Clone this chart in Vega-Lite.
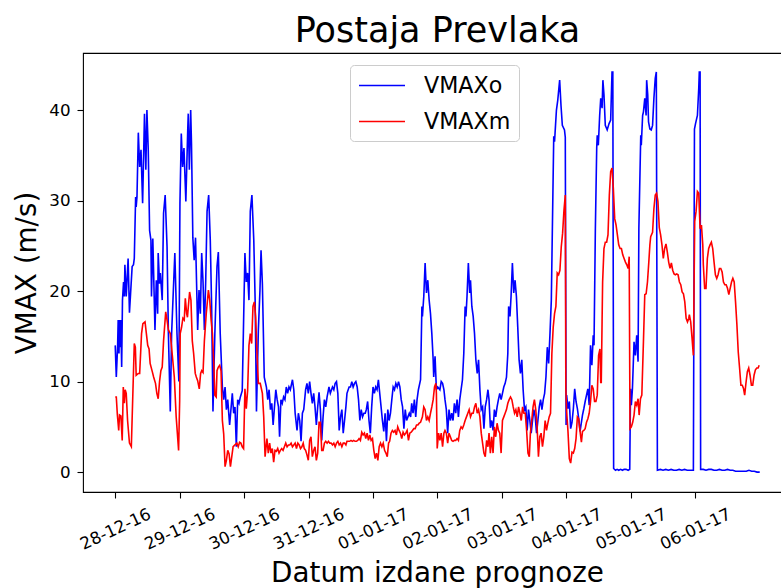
{
"$schema":"https://vega.github.io/schema/vega-lite/v6.json",
"width":699,"height":439,
"autosize":"none",
"padding":{"left":83,"top":53,"right":0,"bottom":96},
"background":"white",
"title":{"text":"Postaja Prevlaka","fontSize":35,"font":"DejaVu Sans","fontWeight":"normal","color":"black","baseline":"alphabetic","offset":-24,"dx":5,"anchor":"middle"},
"config":{"view":{"stroke":"black","strokeWidth":1.1},"font":"DejaVu Sans",
"axis":{"domain":false,"grid":false,"tickColor":"black","tickWidth":1.1,"tickSize":6,"labelColor":"black","labelFont":"DejaVu Sans","labelFontSize":16.7,"titleFont":"DejaVu Sans","titleFontWeight":"normal","titleColor":"black","titleFontSize":27.8,"labelOverlap":false,"labelFlush":false,"labelBound":false}},
"encoding":{
"x":{"field":"t","type":"quantitative","scale":{"domain":[-12,248.3],"nice":false,"zero":false},
"axis":{"values":[0,24,48,72,96,120,144,168,192,216],"labelExpr":"['28-12-16','29-12-16','30-12-16','31-12-16','01-01-17','02-01-17','03-01-17','04-01-17','05-01-17','06-01-17'][round(datum.value/24)]","labelAngle":-25,"labelAlign":"center","labelBaseline":"middle","labelPadding":31,"title":"Datum izdane prognoze","titleX":354,"titleY":89,"titleAlign":"center","titleBaseline":"alphabetic"}},
"y":{"field":"v","type":"quantitative","scale":{"domain":[-2.2,46.3],"nice":false,"zero":false},
"axis":{"values":[0,10,20,30,40],"labelPadding":7,"title":"VMAX (m/s)","titleX":-47.7,"titleY":219.5,"titleAlign":"center","titleBaseline":"alphabetic","titleAngle":-90}}
},
"layer":[
{"mark":{"type":"line","strokeWidth":1.6,"clip":true},
"encoding":{"color":{"datum":"VMAXo","type":"nominal","scale":{"domain":["VMAXo","VMAXm"],"range":["#0000ff","#ff0000"]},
"legend":{"title":null,"orient":"none","legendX":267,"legendY":12,"symbolType":"M-1,0H3","symbolSize":529,"symbolStrokeWidth":1.5,"symbolFillColor":"transparent","labelFontSize":22.2,"labelFont":"DejaVu Sans","labelColor":"black","labelOffset":41,"padding":8,"rowPadding":12,"strokeColor":"#cccccc","fillColor":"white","cornerRadius":4,"labelLimit":0}}},
"data":{"values":[
{"t":0,"v":14.0},{"t":0.4,"v":10.5},{"t":0.9,"v":14.0},{"t":1.1,"v":16.8},{"t":1.4,"v":13.1},{"t":1.6,"v":16.8},{"t":1.9,"v":13.8},{"t":2.1,"v":16.8},{"t":2.4,"v":11.6},{"t":2.7,"v":19.0},{"t":3.1,"v":21.0},{"t":3.4,"v":19.4},{"t":3.6,"v":22.9},{"t":4.1,"v":19.4},{"t":4.8,"v":23.6},{"t":5.3,"v":17.6},{"t":6.3,"v":22.7},{"t":6.8,"v":22.9},{"t":7.1,"v":23.6},{"t":7.6,"v":30.4},{"t":7.8,"v":29.3},{"t":8.1,"v":30.4},{"t":8.6,"v":37.5},{"t":9.1,"v":33.7},{"t":9.6,"v":35.6},{"t":10.2,"v":29.7},{"t":10.9,"v":39.6},{"t":11.4,"v":33.4},{"t":11.8,"v":40.0},{"t":12.3,"v":35.6},{"t":12.8,"v":26.7},{"t":13.3,"v":25.6},{"t":13.5,"v":19.4},{"t":14.0,"v":25.8},{"t":14.8,"v":15.7},{"t":15.3,"v":21.2},{"t":15.8,"v":17.5},{"t":16.0,"v":24.2},{"t":16.5,"v":20.8},{"t":16.8,"v":22.0},{"t":17.5,"v":19.0},{"t":18.0,"v":28.6},{"t":18.6,"v":30.6},{"t":19.3,"v":24.9},{"t":19.8,"v":15.3},{"t":20.5,"v":6.7},{"t":21.0,"v":15.3},{"t":22.2,"v":24.2},{"t":23.0,"v":15.3},{"t":23.7,"v":10.0},{"t":24.1,"v":29.7},{"t":24.6,"v":37.4},{"t":25.1,"v":33.7},{"t":25.6,"v":35.8},{"t":26.3,"v":29.9},{"t":27.0,"v":37.8},{"t":27.2,"v":39.6},{"t":27.6,"v":33.4},{"t":28.1,"v":40.0},{"t":28.4,"v":36.3},{"t":28.9,"v":25.9},{"t":29.4,"v":23.4},{"t":29.9,"v":25.9},{"t":30.7,"v":15.7},{"t":31.2,"v":20.1},{"t":31.7,"v":17.5},{"t":32.2,"v":24.2},{"t":32.7,"v":21.0},{"t":33.2,"v":15.7},{"t":33.7,"v":21.2},{"t":34.2,"v":28.8},{"t":34.8,"v":30.6},{"t":35.4,"v":25.6},{"t":35.9,"v":18.3},{"t":36.4,"v":6.7},{"t":37.1,"v":15.3},{"t":37.9,"v":22.7},{"t":38.4,"v":24.3},{"t":39.1,"v":15.3},{"t":39.9,"v":9.4},{"t":40.4,"v":8.0},{"t":40.9,"v":9.4},{"t":41.4,"v":6.9},{"t":41.9,"v":8.0},{"t":42.6,"v":5.2},{"t":43.6,"v":8.7},{"t":44.1,"v":6.5},{"t":44.6,"v":7.2},{"t":45.1,"v":2.8},{"t":45.6,"v":8.0},{"t":46.1,"v":7.6},{"t":46.6,"v":8.3},{"t":47.3,"v":9.0},{"t":48.3,"v":24.2},{"t":48.8,"v":21.0},{"t":49.3,"v":22.0},{"t":49.8,"v":19.0},{"t":50.3,"v":28.8},{"t":50.9,"v":30.6},{"t":51.6,"v":25.6},{"t":52.1,"v":19.0},{"t":52.6,"v":6.7},{"t":53.3,"v":15.7},{"t":53.9,"v":20.1},{"t":54.3,"v":24.5},{"t":54.8,"v":20.8},{"t":55.5,"v":10.5},
{"t":56.3,"v":9.4},{"t":56.8,"v":8.0},{"t":57.3,"v":9.1},{"t":57.8,"v":6.9},{"t":58.3,"v":7.6},{"t":58.8,"v":5.2},{"t":59.3,"v":7.2},{"t":59.8,"v":9.1},{"t":60.3,"v":8.0},{"t":60.8,"v":7.2},{"t":61.2,"v":3.9},{"t":61.7,"v":8.0},{"t":62.2,"v":7.6},{"t":62.7,"v":8.3},{"t":63.2,"v":8.0},{"t":63.7,"v":9.4},{"t":64.2,"v":8.7},{"t":64.7,"v":9.4},{"t":65.2,"v":9.1},{"t":66.0,"v":10.2},{"t":66.5,"v":9.1},{"t":67.0,"v":6.5},{"t":67.7,"v":4.6},{"t":68.2,"v":6.5},{"t":68.7,"v":5.7},{"t":69.2,"v":3.4},{"t":69.7,"v":6.5},{"t":70.2,"v":6.9},{"t":70.9,"v":9.1},{"t":71.4,"v":9.8},{"t":71.9,"v":8.7},{"t":72.4,"v":10.0},{"t":72.9,"v":8.7},{"t":73.4,"v":7.6},{"t":73.9,"v":8.7},{"t":74.4,"v":7.2},{"t":74.9,"v":5.2},{"t":75.4,"v":7.2},{"t":75.9,"v":8.8},{"t":76.4,"v":6.9},{"t":76.9,"v":3.5},{"t":77.4,"v":6.1},{"t":77.9,"v":8.0},{"t":78.4,"v":7.2},{"t":78.9,"v":8.3},{"t":79.6,"v":9.4},{"t":80.1,"v":8.7},{"t":80.9,"v":9.4},{"t":81.4,"v":9.1},{"t":81.9,"v":9.8},{"t":82.4,"v":10.0},{"t":82.9,"v":8.7},{"t":83.4,"v":4.6},{"t":83.9,"v":6.1},{"t":84.4,"v":6.9},{"t":84.9,"v":4.3},{"t":85.4,"v":5.7},{"t":85.9,"v":7.2},{"t":86.3,"v":8.7},{"t":87.1,"v":9.4},{"t":87.6,"v":9.4},{"t":88.1,"v":10.0},{"t":88.6,"v":9.4},{"t":89.1,"v":9.8},{"t":89.6,"v":10.0},{"t":90.1,"v":9.4},{"t":90.6,"v":8.0},{"t":91.1,"v":5.7},{"t":91.6,"v":6.9},{"t":92.1,"v":6.1},{"t":92.6,"v":6.5},{"t":93.1,"v":6.5},{"t":93.5,"v":6.9},{"t":94.0,"v":7.8},{"t":94.5,"v":5.7},{"t":95.0,"v":4.3},{"t":95.5,"v":7.2},{"t":96.0,"v":9.4},{"t":96.5,"v":8.7},{"t":97.0,"v":9.4},{"t":97.5,"v":9.1},{"t":98.0,"v":10.2},{"t":98.5,"v":8.7},{"t":99.0,"v":7.2},{"t":99.5,"v":5.7},{"t":100.0,"v":4.5},{"t":100.5,"v":6.5},{"t":101.0,"v":3.4},{"t":101.5,"v":6.9},{"t":102.0,"v":5.7},{"t":102.5,"v":6.5},{"t":103.0,"v":8.0},{"t":103.5,"v":9.4},{"t":104.0,"v":9.1},{"t":104.5,"v":9.8},{"t":105.0,"v":9.4},{"t":105.5,"v":10.0},{"t":106.0,"v":9.4},{"t":106.5,"v":8.0},{"t":107.0,"v":7.2},{"t":107.5,"v":4.8},{"t":108.0,"v":6.9},{"t":108.5,"v":5.7},{"t":109.0,"v":6.1},{"t":109.5,"v":6.5},{"t":110.0,"v":6.1},{"t":110.4,"v":7.6},{"t":110.9,"v":6.5},{"t":111.4,"v":8.0},{"t":111.9,"v":6.1},{"t":112.4,"v":8.0},{"t":112.9,"v":9.1},{"t":113.7,"v":10.2},
{"t":114.2,"v":18.3},{"t":114.4,"v":17.2},{"t":114.9,"v":19.4},{"t":115.4,"v":23.1},{"t":115.9,"v":19.8},{"t":116.4,"v":21.2},{"t":116.9,"v":19.0},{"t":117.4,"v":17.5},{"t":117.9,"v":15.3},{"t":118.4,"v":12.4},{"t":118.6,"v":10.5},{"t":119.1,"v":12.8},{"t":119.6,"v":9.1},{"t":120.1,"v":9.4},{"t":120.9,"v":9.1},{"t":121.4,"v":10.0},{"t":121.9,"v":9.8},{"t":122.4,"v":9.1},{"t":122.8,"v":8.0},{"t":123.3,"v":6.9},{"t":123.8,"v":4.3},{"t":124.3,"v":6.9},{"t":124.8,"v":5.7},{"t":125.3,"v":6.5},{"t":125.8,"v":5.7},{"t":126.3,"v":7.6},{"t":126.8,"v":6.5},{"t":127.3,"v":8.0},{"t":127.8,"v":6.1},{"t":128.3,"v":8.0},{"t":128.8,"v":9.1},{"t":129.3,"v":10.2},{"t":129.8,"v":13.1},{"t":130.3,"v":18.3},{"t":130.6,"v":17.2},{"t":131.0,"v":19.4},{"t":131.5,"v":23.1},{"t":132.0,"v":19.8},{"t":132.3,"v":21.2},{"t":132.8,"v":18.3},{"t":133.3,"v":17.2},{"t":133.8,"v":15.3},{"t":134.3,"v":12.4},{"t":134.8,"v":10.9},{"t":135.3,"v":12.4},{"t":135.8,"v":9.1},{"t":136.3,"v":6.9},{"t":136.8,"v":7.2},{"t":137.3,"v":4.8},{"t":137.8,"v":7.2},{"t":138.3,"v":8.0},{"t":138.8,"v":9.1},{"t":139.2,"v":8.0},{"t":139.7,"v":4.9},{"t":140.2,"v":5.7},{"t":140.7,"v":4.6},{"t":141.2,"v":6.9},{"t":141.7,"v":6.1},{"t":142.2,"v":7.2},{"t":142.7,"v":8.0},{"t":143.2,"v":8.7},{"t":143.7,"v":8.0},{"t":144.2,"v":8.7},{"t":144.7,"v":9.4},{"t":145.2,"v":9.8},{"t":145.7,"v":10.5},{"t":146.2,"v":13.1},{"t":146.5,"v":18.3},{"t":147.0,"v":17.2},{"t":147.4,"v":19.4},{"t":147.9,"v":23.1},{"t":148.4,"v":19.8},{"t":148.9,"v":21.2},{"t":149.4,"v":19.4},{"t":149.9,"v":16.0},{"t":150.4,"v":12.4},{"t":150.9,"v":10.9},{"t":151.4,"v":12.4},{"t":151.9,"v":9.1},{"t":152.4,"v":6.9},{"t":152.9,"v":7.2},{"t":153.4,"v":4.6},{"t":153.9,"v":6.9},{"t":154.4,"v":5.7},{"t":154.9,"v":4.3},{"t":155.4,"v":5.7},{"t":155.9,"v":6.9},{"t":156.4,"v":6.1},{"t":156.9,"v":4.3},{"t":157.4,"v":5.7},{"t":157.9,"v":7.2},{"t":158.4,"v":8.0},{"t":158.9,"v":6.9},{"t":159.4,"v":8.0},{"t":159.9,"v":8.7},{"t":160.4,"v":10.5},{"t":160.9,"v":13.8},{"t":161.4,"v":12.0},{"t":161.9,"v":15.3},{"t":162.4,"v":19.0},{"t":162.8,"v":27.1},{"t":163.3,"v":37.1},{"t":163.6,"v":36.5},{"t":163.8,"v":37.5},{"t":164.3,"v":40.0},{"t":164.8,"v":41.1},{"t":165.5,"v":43.3},{"t":166.0,"v":40.5},{"t":166.5,"v":38.3},{"t":167.3,"v":37.8},{"t":167.6,"v":37.0},{"t":167.9,"v":5.2},
{"t":168.1,"v":8.5},{"t":168.6,"v":7.0},{"t":169.1,"v":7.8},{"t":169.6,"v":4.8},{"t":170.1,"v":5.5},{"t":170.6,"v":7.0},{"t":171.1,"v":9.2},{"t":171.6,"v":7.8},{"t":172.1,"v":7.0},{"t":172.6,"v":5.9},{"t":173.1,"v":4.5},{"t":173.6,"v":5.5},{"t":174.0,"v":6.3},{"t":174.5,"v":7.0},{"t":175.0,"v":7.8},{"t":175.5,"v":8.5},{"t":176.0,"v":9.2},{"t":176.5,"v":7.4},{"t":177.0,"v":14.0},{"t":177.5,"v":11.8},{"t":178.0,"v":15.1},{"t":178.3,"v":14.0},{"t":178.8,"v":26.9},{"t":179.3,"v":35.8},{"t":179.5,"v":37.2},{"t":179.9,"v":36.1},{"t":180.4,"v":39.4},{"t":180.8,"v":41.3},{"t":181.3,"v":40.2},{"t":181.6,"v":43.3},{"t":182.0,"v":41.7},{"t":182.5,"v":38.3},{"t":183.2,"v":37.8},{"t":183.9,"v":38.5},{"t":184.5,"v":38.9},{"t":185.0,"v":44.2},{"t":185.3,"v":44.2},{"t":185.6,"v":0.4},{"t":186.3,"v":0.2},{"t":186.9,"v":0.3},{"t":187.5,"v":0.2},{"t":188.2,"v":0.3},{"t":188.9,"v":0.2},{"t":189.5,"v":0.3},{"t":190.2,"v":0.3},{"t":191.0,"v":0.2},{"t":191.6,"v":0.3},{"t":191.9,"v":9.2},{"t":192.2,"v":7.4},{"t":192.6,"v":9.2},{"t":193.2,"v":14.4},{"t":193.7,"v":12.9},{"t":194.2,"v":15.1},{"t":194.7,"v":12.2},{"t":195.0,"v":26.9},{"t":195.7,"v":37.2},{"t":195.9,"v":36.1},{"t":196.4,"v":39.4},{"t":196.7,"v":39.8},{"t":197.2,"v":41.3},{"t":197.7,"v":39.4},{"t":197.9,"v":43.3},{"t":198.3,"v":41.7},{"t":198.6,"v":38.7},{"t":199.1,"v":37.9},{"t":199.6,"v":37.8},{"t":200.1,"v":38.3},{"t":200.6,"v":41.3},{"t":201.1,"v":43.5},{"t":201.5,"v":44.2},{"t":201.9,"v":0.2},{"t":203,"v":0.3},{"t":204,"v":0.2},{"t":205,"v":0.3},{"t":206,"v":0.2},{"t":207,"v":0.3},{"t":208,"v":0.2},{"t":209,"v":0.2},{"t":210,"v":0.3},{"t":211,"v":0.2},{"t":212,"v":0.3},{"t":213,"v":0.2},{"t":214,"v":0.2},{"t":215.3,"v":0.2},{"t":215.7,"v":37.9},{"t":216.1,"v":38.5},{"t":216.8,"v":39.4},{"t":217.3,"v":42.4},{"t":217.5,"v":44.2},{"t":217.8,"v":44.2},{"t":218.0,"v":0.3},{"t":219,"v":0.3},{"t":220,"v":0.2},{"t":221,"v":0.3},{"t":222,"v":0.3},{"t":223,"v":0.2},{"t":224,"v":0.2},{"t":225,"v":0.3},{"t":226,"v":0.2},{"t":227,"v":0.2},{"t":228,"v":0.3},{"t":229,"v":0.2},{"t":230,"v":0.2},{"t":231,"v":0.1},{"t":232,"v":0.1},{"t":233,"v":0.1},{"t":234,"v":0.1},{"t":235,"v":0.1},{"t":236,"v":0.2},{"t":237,"v":0.1},{"t":238,"v":0.1},{"t":239,"v":0.0},{"t":240,"v":0.0}
]}},
{"mark":{"type":"line","strokeWidth":1.6,"clip":true},
"encoding":{"color":{"datum":"VMAXm","type":"nominal"}},
"data":{"values":[
{"t":0,"v":8.3},{"t":0.4,"v":8.3},{"t":0.8,"v":6.3},{"t":1.3,"v":4.6},{"t":1.6,"v":6.3},{"t":2.1,"v":6.2},{"t":2.6,"v":3.5},{"t":3.0,"v":9.4},{"t":3.4,"v":7.6},{"t":3.7,"v":9.1},{"t":4.1,"v":8.7},{"t":4.6,"v":5.7},{"t":5.3,"v":3.2},{"t":6.0,"v":2.8},{"t":7.1,"v":14.2},{"t":7.5,"v":13.8},{"t":7.8,"v":10.7},{"t":8.6,"v":10.9},{"t":9.1,"v":10.9},{"t":9.8,"v":15.3},{"t":10.3,"v":16.4},{"t":11.1,"v":16.6},{"t":11.6,"v":15.3},{"t":12.1,"v":14.0},{"t":12.6,"v":13.6},{"t":13.0,"v":12.0},{"t":13.8,"v":11.1},{"t":14.3,"v":10.5},{"t":15.0,"v":9.8},{"t":15.5,"v":8.7},{"t":16.0,"v":8.1},{"t":16.5,"v":10.0},{"t":17.0,"v":11.2},{"t":17.5,"v":11.6},{"t":18.0,"v":14.5},{"t":18.8,"v":17.7},{"t":19.3,"v":16.8},{"t":19.8,"v":15.7},{"t":20.5,"v":15.3},{"t":21.2,"v":13.1},{"t":22.0,"v":10.5},{"t":22.7,"v":6.1},{"t":23.6,"v":2.4},{"t":24.0,"v":7.9},{"t":24.2,"v":15.3},{"t":24.7,"v":16.0},{"t":25.2,"v":17.0},{"t":25.7,"v":16.8},{"t":26.1,"v":19.2},{"t":26.6,"v":17.5},{"t":26.9,"v":17.1},{"t":27.2,"v":18.2},{"t":27.7,"v":19.9},{"t":28.2,"v":19.0},{"t":28.7,"v":14.5},{"t":29.2,"v":13.1},{"t":29.8,"v":10.9},{"t":30.2,"v":10.5},{"t":30.7,"v":10.1},{"t":31.3,"v":9.2},{"t":31.8,"v":10.9},{"t":32.2,"v":11.2},{"t":32.7,"v":11.0},{"t":33.2,"v":14.5},{"t":33.9,"v":17.5},{"t":34.7,"v":20.1},{"t":35.2,"v":19.0},{"t":35.7,"v":16.8},{"t":36.2,"v":15.3},{"t":36.7,"v":12.0},{"t":37.1,"v":8.5},{"t":37.6,"v":8.3},{"t":37.9,"v":11.2},{"t":38.4,"v":11.6},{"t":38.9,"v":11.8},{"t":39.4,"v":11.2},{"t":39.9,"v":5.7},{"t":40.4,"v":4.2},{"t":40.9,"v":0.6},{"t":41.4,"v":1.3},{"t":41.9,"v":2.4},{"t":42.4,"v":2.0},{"t":42.9,"v":0.6},{"t":43.4,"v":1.7},{"t":43.9,"v":2.8},{"t":44.6,"v":3.0},{"t":45.3,"v":3.2},{"t":45.8,"v":2.8},{"t":46.3,"v":3.3},{"t":46.8,"v":3.2},{"t":47.3,"v":2.8},{"t":47.8,"v":2.6},{"t":48.3,"v":9.2},{"t":48.8,"v":7.0},{"t":49.3,"v":9.0},{"t":49.8,"v":14.0},{"t":50.3,"v":15.3},{"t":50.8,"v":14.2},{"t":51.3,"v":18.3},{"t":51.8,"v":18.8},{"t":52.3,"v":17.1},{"t":52.8,"v":13.1},{"t":53.3,"v":9.8},{"t":54.0,"v":9.8},{"t":54.8,"v":8.7},{"t":55.3,"v":6.1},{"t":55.8,"v":1.7},
{"t":56.5,"v":3.7},{"t":57.0,"v":2.1},{"t":57.5,"v":3.2},{"t":58.0,"v":2.1},{"t":58.5,"v":2.6},{"t":59.0,"v":1.1},{"t":59.5,"v":2.4},{"t":60.0,"v":2.3},{"t":60.5,"v":2.6},{"t":61.0,"v":2.1},{"t":61.5,"v":2.4},{"t":62.0,"v":2.6},{"t":62.5,"v":2.4},{"t":63.0,"v":2.8},{"t":63.5,"v":3.2},{"t":64.0,"v":2.8},{"t":64.5,"v":3.0},{"t":65.0,"v":3.0},{"t":65.5,"v":3.2},{"t":66.0,"v":2.8},{"t":66.5,"v":3.0},{"t":67.0,"v":3.2},{"t":67.5,"v":2.6},{"t":68.0,"v":3.2},{"t":68.5,"v":3.0},{"t":69.0,"v":2.6},{"t":69.5,"v":2.8},{"t":70.0,"v":3.2},{"t":70.4,"v":2.6},{"t":70.9,"v":2.4},{"t":71.4,"v":1.9},{"t":71.9,"v":1.3},{"t":72.4,"v":3.5},{"t":72.9,"v":3.9},{"t":73.4,"v":1.7},{"t":73.9,"v":2.4},{"t":74.4,"v":2.8},{"t":74.9,"v":1.3},{"t":75.4,"v":2.1},{"t":75.9,"v":5.5},{"t":76.4,"v":5.5},{"t":76.9,"v":2.4},{"t":77.4,"v":2.4},{"t":77.9,"v":3.2},{"t":78.4,"v":3.4},{"t":78.9,"v":3.2},{"t":79.4,"v":3.4},{"t":79.9,"v":3.2},{"t":80.4,"v":3.2},{"t":80.9,"v":3.0},{"t":81.4,"v":3.2},{"t":81.9,"v":2.8},{"t":82.4,"v":3.2},{"t":82.9,"v":3.4},{"t":83.4,"v":3.0},{"t":83.9,"v":3.2},{"t":84.4,"v":2.8},{"t":84.9,"v":3.2},{"t":85.4,"v":3.2},{"t":85.9,"v":3.0},{"t":86.3,"v":3.4},{"t":86.8,"v":3.4},{"t":87.3,"v":3.4},{"t":87.8,"v":3.5},{"t":88.3,"v":3.4},{"t":88.8,"v":3.5},{"t":89.3,"v":3.4},{"t":89.8,"v":3.4},{"t":90.3,"v":3.5},{"t":90.8,"v":3.7},{"t":91.3,"v":3.5},{"t":91.8,"v":4.4},{"t":92.3,"v":4.1},{"t":92.8,"v":4.3},{"t":93.3,"v":3.7},{"t":93.8,"v":4.3},{"t":94.3,"v":3.5},{"t":94.8,"v":4.1},{"t":95.3,"v":3.5},{"t":95.8,"v":3.7},{"t":96.3,"v":2.4},{"t":96.8,"v":1.5},{"t":97.3,"v":2.1},{"t":97.8,"v":1.3},{"t":98.3,"v":2.8},{"t":98.8,"v":3.2},{"t":99.3,"v":2.8},{"t":99.8,"v":3.2},{"t":100.3,"v":2.4},{"t":100.8,"v":2.1},{"t":101.3,"v":1.7},{"t":101.8,"v":3.2},{"t":102.2,"v":3.4},{"t":102.7,"v":4.3},{"t":103.2,"v":4.6},{"t":103.7,"v":4.4},{"t":104.2,"v":4.6},{"t":104.7,"v":4.1},{"t":105.2,"v":5.0},{"t":105.7,"v":4.6},{"t":106.2,"v":4.3},{"t":106.7,"v":3.7},{"t":107.2,"v":4.4},{"t":107.7,"v":4.1},{"t":108.2,"v":4.3},{"t":108.7,"v":4.6},{"t":109.2,"v":3.5},{"t":109.7,"v":4.3},{"t":110.2,"v":4.4},{"t":110.7,"v":4.6},{"t":111.2,"v":4.8},{"t":111.7,"v":4.8},{"t":112.2,"v":5.2},{"t":112.7,"v":5.2},{"t":113.2,"v":5.4},{"t":113.7,"v":5.5},
{"t":114.4,"v":6.1},{"t":114.9,"v":7.2},{"t":115.4,"v":6.9},{"t":115.9,"v":5.7},{"t":116.4,"v":6.1},{"t":116.9,"v":5.7},{"t":117.4,"v":6.5},{"t":117.9,"v":7.2},{"t":118.4,"v":8.0},{"t":118.9,"v":9.4},{"t":119.4,"v":9.8},{"t":119.6,"v":8.7},{"t":119.9,"v":2.6},{"t":120.4,"v":4.3},{"t":120.9,"v":3.5},{"t":121.4,"v":4.3},{"t":121.9,"v":2.8},{"t":122.4,"v":4.3},{"t":122.8,"v":4.6},{"t":123.3,"v":4.3},{"t":123.8,"v":3.2},{"t":124.3,"v":4.3},{"t":124.8,"v":3.9},{"t":125.3,"v":3.5},{"t":125.8,"v":3.4},{"t":126.3,"v":3.5},{"t":126.8,"v":3.5},{"t":127.3,"v":3.7},{"t":127.8,"v":3.5},{"t":128.3,"v":4.6},{"t":128.8,"v":5.0},{"t":129.3,"v":4.8},{"t":129.8,"v":5.2},{"t":130.3,"v":5.7},{"t":130.8,"v":6.1},{"t":131.3,"v":6.5},{"t":131.8,"v":6.9},{"t":132.3,"v":6.1},{"t":132.8,"v":6.5},{"t":133.3,"v":6.5},{"t":133.8,"v":7.2},{"t":134.3,"v":7.6},{"t":134.8,"v":6.5},{"t":135.3,"v":6.9},{"t":135.8,"v":6.1},{"t":136.3,"v":4.3},{"t":136.8,"v":3.2},{"t":137.3,"v":2.1},{"t":137.8,"v":1.7},{"t":138.3,"v":3.5},{"t":138.8,"v":2.8},{"t":139.2,"v":4.3},{"t":139.7,"v":2.1},{"t":140.2,"v":3.9},{"t":140.7,"v":2.1},{"t":141.2,"v":5.0},{"t":141.7,"v":3.9},{"t":142.2,"v":5.4},{"t":142.7,"v":4.6},{"t":143.2,"v":4.3},{"t":143.7,"v":2.1},{"t":144.2,"v":5.7},{"t":144.7,"v":6.1},{"t":145.2,"v":6.5},{"t":145.7,"v":6.9},{"t":146.2,"v":7.6},{"t":146.7,"v":8.0},{"t":147.2,"v":8.3},{"t":147.7,"v":8.0},{"t":148.2,"v":7.2},{"t":148.7,"v":6.5},{"t":149.2,"v":6.9},{"t":149.7,"v":6.1},{"t":150.2,"v":7.2},{"t":150.7,"v":6.5},{"t":151.2,"v":5.7},{"t":151.7,"v":7.2},{"t":152.2,"v":6.5},{"t":152.7,"v":6.5},{"t":153.2,"v":4.6},{"t":153.7,"v":2.1},{"t":154.2,"v":1.7},{"t":154.6,"v":4.3},{"t":155.1,"v":5.7},{"t":155.6,"v":7.2},{"t":156.1,"v":8.0},{"t":156.6,"v":6.9},{"t":157.1,"v":5.0},{"t":157.6,"v":1.7},{"t":158.1,"v":3.9},{"t":158.6,"v":4.3},{"t":159.1,"v":2.8},{"t":159.6,"v":3.9},{"t":160.1,"v":5.7},{"t":160.6,"v":4.6},{"t":161.1,"v":5.4},{"t":161.6,"v":6.1},{"t":162.1,"v":6.5},{"t":162.6,"v":13.1},{"t":163.1,"v":16.0},{"t":163.6,"v":17.5},{"t":164.1,"v":18.3},{"t":164.6,"v":22.0},{"t":165.1,"v":21.8},{"t":165.6,"v":22.3},{"t":166.1,"v":24.9},{"t":166.6,"v":26.4},{"t":167.1,"v":28.9},{"t":167.6,"v":30.6},
{"t":167.8,"v":9.2},{"t":168.1,"v":6.7},{"t":168.6,"v":4.5},{"t":169.1,"v":1.5},{"t":169.6,"v":1.0},{"t":170.1,"v":2.2},{"t":170.6,"v":2.1},{"t":171.1,"v":2.6},{"t":171.6,"v":3.7},{"t":172.1,"v":6.1},{"t":172.6,"v":5.9},{"t":173.1,"v":4.5},{"t":173.6,"v":3.3},{"t":174.0,"v":4.5},{"t":174.5,"v":4.6},{"t":175.0,"v":4.8},{"t":175.5,"v":5.5},{"t":176.0,"v":5.9},{"t":176.5,"v":6.5},{"t":177.0,"v":7.8},{"t":177.5,"v":9.6},{"t":178.0,"v":9.2},{"t":178.5,"v":7.8},{"t":179.0,"v":7.8},{"t":179.5,"v":8.5},{"t":180.0,"v":12.9},{"t":180.5,"v":13.6},{"t":180.8,"v":9.9},{"t":181.0,"v":9.9},{"t":181.3,"v":16.6},{"t":181.5,"v":21.0},{"t":182.0,"v":24.7},{"t":182.5,"v":25.4},{"t":183.0,"v":25.4},{"t":183.5,"v":26.2},{"t":184.0,"v":30.6},{"t":184.5,"v":33.2},{"t":185.0,"v":33.6},{"t":185.5,"v":31.3},{"t":186.0,"v":28.0},{"t":186.5,"v":27.3},{"t":187.0,"v":26.2},{"t":187.5,"v":25.1},{"t":188.0,"v":24.7},{"t":188.5,"v":24.7},{"t":189.0,"v":24.0},{"t":189.5,"v":23.6},{"t":190.0,"v":23.2},{"t":190.5,"v":22.9},{"t":191.0,"v":22.5},{"t":191.4,"v":23.8},{"t":191.7,"v":4.8},{"t":192.2,"v":5.0},{"t":192.7,"v":5.5},{"t":193.2,"v":6.3},{"t":193.7,"v":7.8},{"t":194.2,"v":7.4},{"t":194.7,"v":8.1},{"t":195.1,"v":6.3},{"t":195.6,"v":8.1},{"t":196.1,"v":8.5},{"t":196.7,"v":14.4},{"t":197.2,"v":19.6},{"t":197.7,"v":19.7},{"t":198.2,"v":21.0},{"t":198.7,"v":23.2},{"t":199.1,"v":25.1},{"t":199.4,"v":26.0},{"t":200.1,"v":26.5},{"t":200.6,"v":29.1},{"t":201.1,"v":30.6},{"t":201.6,"v":30.8},{"t":202.1,"v":29.9},{"t":202.6,"v":27.0},{"t":203.1,"v":26.2},{"t":203.6,"v":25.1},{"t":204.1,"v":23.6},{"t":204.6,"v":24.7},{"t":205.1,"v":25.2},{"t":205.6,"v":24.3},{"t":206.1,"v":23.2},{"t":206.6,"v":22.5},{"t":207.1,"v":23.1},{"t":207.6,"v":22.3},{"t":208.1,"v":21.9},{"t":208.6,"v":21.8},{"t":209.1,"v":21.9},{"t":209.6,"v":21.8},{"t":210.1,"v":21.0},{"t":210.6,"v":20.7},{"t":211.1,"v":19.9},{"t":211.6,"v":19.7},{"t":212.1,"v":18.8},{"t":212.6,"v":17.0},{"t":213.1,"v":16.6},{"t":213.6,"v":17.0},{"t":213.8,"v":17.4},{"t":214.3,"v":16.6},{"t":214.8,"v":14.8},{"t":215.3,"v":12.9},{"t":215.8,"v":27.7},{"t":216.3,"v":28.8},{"t":216.8,"v":31.0},{"t":217.3,"v":30.8},{"t":217.8,"v":26.9},{"t":218.3,"v":27.3},{"t":218.8,"v":25.1},{"t":219.0,"v":22.9},{"t":219.5,"v":20.3},{"t":220.0,"v":20.3},{"t":220.5,"v":23.6},{"t":221.0,"v":24.7},{"t":221.5,"v":25.1},{"t":222.0,"v":25.4},{"t":222.5,"v":24.7},{"t":223.0,"v":23.2},{"t":223.5,"v":21.8},{"t":224.0,"v":21.4},{"t":224.5,"v":21.8},{"t":225.0,"v":22.5},{"t":225.5,"v":22.5},{"t":226.0,"v":22.1},{"t":226.5,"v":21.0},{"t":227.0,"v":20.7},{"t":227.5,"v":20.7},{"t":228.0,"v":20.3},{"t":228.5,"v":19.6},{"t":229.0,"v":20.3},{"t":229.5,"v":21.0},{"t":230.0,"v":21.4},{"t":230.5,"v":21.0},{"t":231.0,"v":18.8},{"t":231.5,"v":16.3},{"t":232.0,"v":13.3},{"t":232.5,"v":11.5},{"t":233.0,"v":9.6},{"t":233.5,"v":9.6},{"t":234.0,"v":9.2},{"t":234.4,"v":8.5},{"t":234.9,"v":9.9},{"t":235.4,"v":11.1},{"t":235.9,"v":11.5},{"t":236.4,"v":10.7},{"t":236.9,"v":9.6},{"t":237.4,"v":9.6},{"t":237.9,"v":10.7},{"t":238.4,"v":11.3},{"t":238.9,"v":11.5},{"t":239.4,"v":11.5},{"t":239.8,"v":11.8}
]}}
]
}
